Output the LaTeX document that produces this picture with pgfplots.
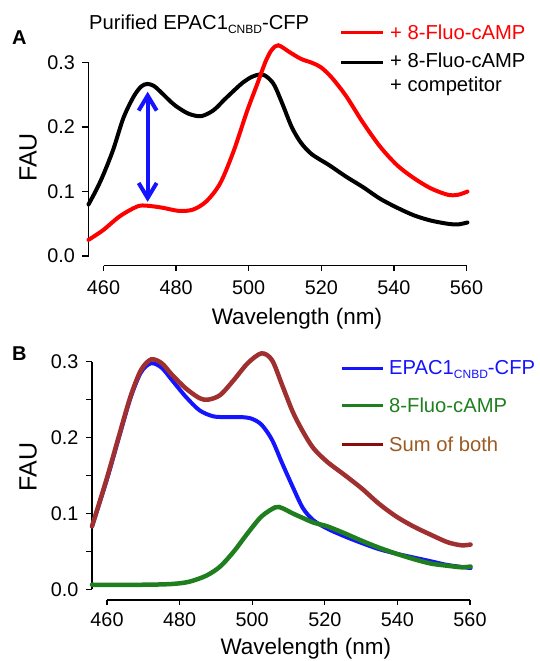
\documentclass[border=0pt]{standalone}
\usepackage{pgfplots}
\pgfplotsset{compat=1.18}
\usepackage{fontspec}
\setmainfont{Liberation Sans}
\usetikzlibrary{arrows.meta}
\definecolor{cblue}{HTML}{1414FF}
\definecolor{cgreen}{HTML}{1F7F1F}
\definecolor{csum}{HTML}{A03030}
\definecolor{csumleg}{HTML}{8B0A0A}
\definecolor{csumtxt}{HTML}{9C5A22}
\newcommand{\fs}[1]{\fontsize{#1}{#1}\selectfont}
\pgfplotsset{
  base/.style={scale only axis, clip=false,
    axis line style={line width=1.4pt, black},
    every tick/.style={line width=1.3pt, black},
    tick align=outside, major tick length=6pt,
    tick label style={font=\fs{19.8}},
  },
  yax/.style={base, axis y line*=left, axis x line=none, xtick=\empty,
    width=379.3pt, xmin=456, xmax=560.5, ymin=0, ymax=0.3,
    yticklabel style={anchor=east, inner sep=0pt, xshift=-7.5pt}},
  xax/.style={base, axis x line*=bottom, hide y axis, ytick=\empty,
    width=363pt, height=10pt, xmin=460, xmax=560, ymin=0, ymax=1,
    xtick={460,480,500,520,540,560},
    xticklabels={460,480,500,520,540,560},
    major tick length=5pt},
}
\begin{document}
\begin{tikzpicture}[x=1pt,y=1pt]
\useasboundingbox (0,0) rectangle (540,661);
% ---------------- Panel A ----------------
\begin{axis}[yax, at={(88.5pt,405pt)}, anchor=south west, height=193.3pt,
  ytick={0,0.1,0.2,0.3}, yticklabels={0.0,0.1,0.2,0.3}]
\addplot[black, line width=4pt, smooth, line cap=round] coordinates {
(456,0.080) (458,0.101) (460,0.125) (462.8,0.165) (465.6,0.214) (468.4,0.247)
(470.5,0.263) (472.2,0.267) (474,0.264) (476,0.254) (478,0.243) (480,0.233)
(483.5,0.221) (487,0.217) (490.4,0.226) (493.5,0.243) (496.5,0.259) (498.5,0.269)
(501,0.278) (503.7,0.282) (505.6,0.276) (507.3,0.264) (509.5,0.235) (512,0.200)
(514.5,0.176) (517.5,0.158) (522.3,0.141) (527,0.123) (531.6,0.107) (536.3,0.089)
(541,0.075) (545.7,0.063) (550.3,0.055) (555,0.050) (557.8,0.049) (560.4,0.052)};
\addplot[red, line width=4pt, smooth, line cap=round] coordinates {
(456,0.025) (460,0.040) (464.7,0.062) (469.5,0.077) (472.2,0.078) (476.3,0.075)
(480.9,0.070) (484.8,0.072) (488.5,0.085) (492.3,0.113) (496,0.163) (499.7,0.225)
(502.5,0.267) (504.8,0.302) (506.5,0.320) (508.3,0.327) (511.5,0.316) (514.5,0.306)
(517.5,0.300) (520,0.293) (523,0.277) (527,0.248) (531.5,0.208) (536.3,0.170)
(541,0.141) (545.6,0.121) (550.3,0.105) (555,0.095) (557.8,0.095) (560.4,0.100)};
\draw[cblue, line width=4pt, {Straight Barb[length=15pt,width=18pt]}-{Straight Barb[length=15pt,width=18pt]}]
  (axis cs:472.3,0.084) -- (axis cs:472.3,0.255);
\end{axis}
\begin{axis}[xax, at={(103.5pt,395.3pt)}, anchor=south west,
  xticklabel style={inner sep=0pt, yshift=-10pt}]
\end{axis}
\node[rotate=90, font=\fs{25}] at (28.2,503.5) {FAU};
\node[anchor=base, font=\fs{22.5}] at (297,336) {Wavelength (nm)};
\node[anchor=base west, inner sep=0pt, font=\fs{20}\bfseries] at (12,616) {A};
\node[anchor=base west, inner sep=0pt, font=\fs{20.2}] at (89,631.7) {Purified EPAC1\raisebox{-4pt}{\fs{12}CNBD}-CFP};
\draw[red, line width=3pt] (341,628) -- (383,628);
\node[anchor=base west, inner sep=0pt, text=red, font=\fs{20.2}] at (390,621.7) {+ 8-Fluo-cAMP};
\draw[black, line width=3pt] (341,598) -- (383,598);
\node[anchor=base west, inner sep=0pt, font=\fs{20.2}] at (390,593.3) {+ 8-Fluo-cAMP};
\node[anchor=base west, inner sep=0pt, font=\fs{20.2}] at (390,569.3) {+ competitor};
% ---------------- Panel B ----------------
\begin{axis}[yax, at={(92pt,71.7pt)}, anchor=south west, height=227.6pt,
  ytick={0,0.05,0.1,0.15,0.2,0.25,0.3}, yticklabels={0.0,,0.1,,0.2,,0.3}]
\addplot[cblue, line width=4pt, smooth, line cap=round] coordinates {
(456,0.083) (460,0.143) (463.3,0.198) (466.6,0.252) (469.5,0.286) (472.3,0.298)
(475.2,0.292) (478,0.276) (481.8,0.254) (485.6,0.236) (489.4,0.228) (493.2,0.227)
(497,0.227) (499.9,0.225) (502.7,0.217) (505.6,0.197) (508.4,0.166) (511.3,0.135)
(514.1,0.107) (517,0.091) (520.8,0.080) (525.5,0.070) (530.3,0.061) (535,0.053)
(539.8,0.047) (544.5,0.042) (549.3,0.037) (554,0.032) (560.3,0.028)};
\addplot[cgreen, line width=4.5pt, smooth, line cap=round] coordinates {
(456,0.006) (470,0.006) (478,0.007) (482.8,0.010) (487.5,0.018) (491.3,0.030)
(495.1,0.050) (498.9,0.074) (502.7,0.096) (506.5,0.108) (508.4,0.107) (511.3,0.100)
(514.1,0.094) (517,0.088) (520.8,0.083) (525.5,0.074) (530.3,0.064) (535,0.055)
(539.8,0.047) (544.5,0.040) (549.3,0.034) (554,0.031) (557.8,0.029) (560.3,0.030)};
\addplot[csum, line width=4.5pt, smooth, line cap=round] coordinates {
(456,0.083) (460,0.145) (463.3,0.200) (466.6,0.254) (469.5,0.289) (472.3,0.303)
(475.2,0.298) (478,0.283) (481.8,0.265) (485.6,0.252) (488,0.250) (491.3,0.256)
(495.1,0.276) (498.9,0.298) (502.7,0.311) (505.6,0.302) (508.4,0.269) (511.3,0.234)
(514.1,0.208) (517,0.186) (520.8,0.168) (525.5,0.151) (530.3,0.133) (535,0.113)
(539.8,0.096) (544.5,0.083) (549.3,0.072) (554,0.062) (557.8,0.058) (560.3,0.059)};
\end{axis}
\begin{axis}[xax, at={(107pt,61pt)}, anchor=south west,
  xticklabel style={inner sep=0pt, yshift=-7.5pt}]
\end{axis}
\node[rotate=90, font=\fs{25}] at (28.2,194.3) {FAU};
\node[anchor=base, font=\fs{22.5}] at (305.8,6) {Wavelength (nm)};
\node[anchor=base west, inner sep=0pt, font=\fs{20}\bfseries] at (12,300.3) {B};
\draw[cblue, line width=3pt] (342,292.7) -- (383,292.7);
\node[anchor=base west, inner sep=0pt, text=cblue, font=\fs{20.2}] at (389,286) {EPAC1\raisebox{-4pt}{\fs{12}CNBD}-CFP};
\draw[cgreen, line width=3pt] (342,255) -- (383,255);
\node[anchor=base west, inner sep=0pt, text=cgreen, font=\fs{20.2}] at (389,248) {8-Fluo-cAMP};
\draw[csumleg, line width=3pt] (342,216.7) -- (383,216.7);
\node[anchor=base west, inner sep=0pt, text=csumtxt, font=\fs{20.2}] at (389,209.7) {Sum of both};
\end{tikzpicture}
\end{document}
